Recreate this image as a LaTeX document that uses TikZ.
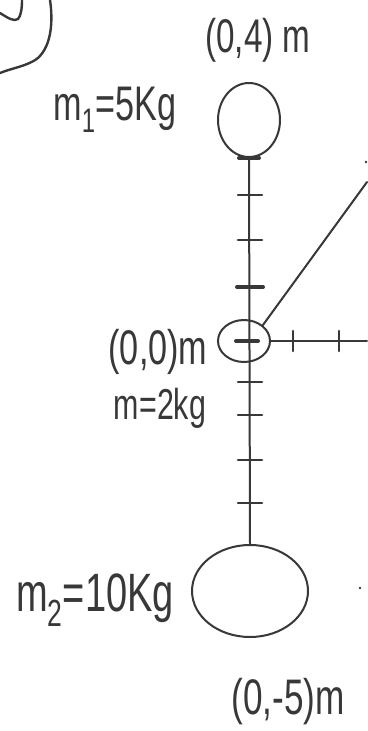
\documentclass[tikz,border=0pt]{standalone}
\usepackage{fontspec}
\usepackage{graphicx}
\setmainfont{Liberation Sans}
\usetikzlibrary{shapes.geometric}
\definecolor{ink}{HTML}{383838}
\newcommand{\tall}[1]{\scalebox{0.95}[1.35]{#1}}
\tikzset{
  pen/.style={draw=ink, line width=2pt, line cap=round},
  lbl/.style={text=ink, inner sep=0pt, anchor=center},
  mass/.style={ellipse, pen, inner sep=0pt},
  tick/.style={pen, line width=2.6pt},
}
\begin{document}
\begin{tikzpicture}[x=1pt,y=-1pt]
\useasboundingbox[fill=white] (0,0) rectangle (367,731);
% top-left fragments
\draw[pen, line width=2.4pt] (0,13) .. controls (8,18) and (14,22) .. (18,19) .. controls (21,16) and (22,8) .. (22,0);
\draw[pen, line width=2.4pt] (50,0) .. controls (53,20) and (52,45) .. (38,58) .. controls (28,66) and (12,68) .. (0,73);
% masses
\node[mass, minimum width=62pt, minimum height=74pt] (m1) at (249,120) {};
\node[mass, minimum width=52pt, minimum height=42pt] (o) at (244,341) {};
\node[mass, minimum width=116pt, minimum height=92pt] (m2) at (250,591) {};
\draw[pen, line width=4pt] ([xshift=-10pt]m1.south) -- ([xshift=10pt]m1.south);
% axes
\coordinate (xend) at (367,341);
\coordinate (dend) at (367,182);
\draw[pen] (m1.south) -- (m2.north);
\draw[pen] (o.east) -- (xend);
\draw[pen] (o.40) -- (dend);
% ticks on vertical axis
\foreach \y in {195,240,382,415,460,503}
  \draw[tick] (238,\y) -- (262,\y);
\draw[tick, line width=4pt] (237,287) -- (263,287);
\draw[tick, line width=4pt] (236,341) -- (258,341);
% ticks on horizontal axis
\foreach \x in {293,339}
  \draw[tick] (\x,331) -- (\x,351);
% dots
\fill[ink] (366,162) circle (1.3pt);
\fill[ink] (360,588) circle (1.3pt);
% labels
\node[lbl, font=\fontsize{35}{35}\selectfont] (l04) at (258,40) {\tall{(0,4) m}};
\node[lbl, font=\fontsize{36}{36}\selectfont] (lm1) at (115,110) {\tall{m\textsubscript{1}=5Kg}};
\node[lbl, font=\fontsize{36}{36}\selectfont] (l00) at (158,352) {\tall{(0,0)m}};
\node[lbl, font=\fontsize{32}{32}\selectfont] (lm) at (160,408) {\tall{m=2kg}};
\node[lbl, font=\fontsize{40}{40}\selectfont] (lm2) at (95,600) {\tall{m\textsubscript{2}=10Kg}};
\node[lbl, font=\fontsize{37}{37}\selectfont] (l05) at (288,702) {\tall{(0,-5)m}};
\end{tikzpicture}
\end{document}
